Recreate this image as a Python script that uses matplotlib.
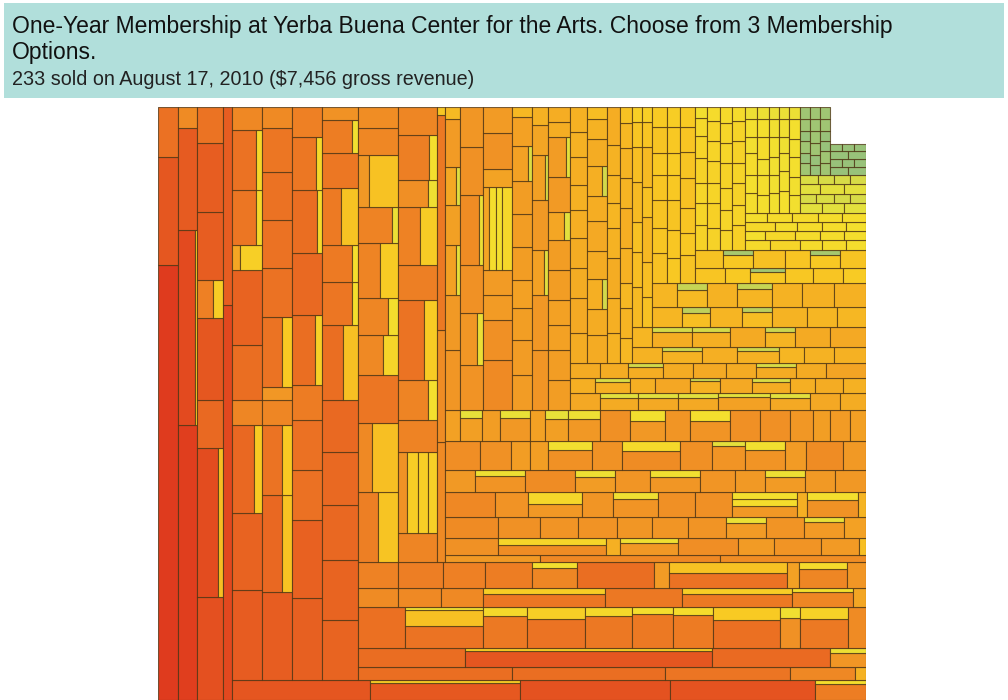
import matplotlib
matplotlib.use("Agg")
import matplotlib.pyplot as plt
from matplotlib.colors import LinearSegmentedColormap
from matplotlib.patches import Rectangle
from matplotlib.collections import PatchCollection
import numpy as np

# Header text
title_text = "One-Year Membership at Yerba Buena Center for the Arts. Choose from 3 Membership\nOptions."
subtitle_text = "233 sold on August 17, 2010 ($7,456 gross revenue)"

# Treemap values, one list per band of the spiral (lanes -> items -> parts)
band_kinds = ["col", "row"] * 10

band_01 = [
    [8700, 2160, 1000],
    [5225, (3300, 405), 1938, 400],
    [2678, (3100, 774), 1248, 2132, (600, 388), 1768, 1794, 936],
    [3555, 1782],
]
band_02 = [[2760, (2500, 500), 3000, 2900, (820, 200)]]
band_03 = [
    [2700, 2310, (1936, 704), 750, 1650, 2250, (200, 550), (1320, 330), (1440, 360), 690],
    [2640, (1940, 970), (1400, 700), 750, 390, (1400, 700), 1470, 1440, 1440, 1320, 630],
    [2460, 2340, 1500, 1500, 1050, (1600, 500), 1860, (1600, 290), (1250, 340), 900],
    [2160, 2160, 1980, 1908, 1872, (1600, 1100), (1300, 248), (1100, 232), (1100, 952), 1260, (1000, 188), 468],
]
band_04 = [
    [2002, 1989, 1625, 845, 143],
    [2033, (4000, 693), 2242, (500, 184)],
    [1927, (1700, 1300, 198), (1400, 404), (1700, 678), (1500, 427), (1400, 281), (1300, 340), (1900, 847), (600, 220), (1400, 568), 738],
    [760, 817, 798, (1600, 718), 1463, (1400, 690), (900, 259), 247],
    [1040, 1170, 1092, 1222, (900, 270), 2002, 390, (1800, 1268), 312, (900, 348), 494],
]
band_05 = [
    [(1400, 1400), (1000, 1760), 1920, (1000, 600), (1100, 380), (1200, 1000), (1240, 200), (560, 1520), 1080, 840],
    [1131, (700, 900, 800, 759), 1248, (1200, 360), (2100, 1020), 1365, (1300, 962), (800, 253), (1400, 355), 1092],
    [960, 896, 1720, 64],
]
band_06 = [
    [665, 1260, 1022],
    [901, (1100, 736), 238, (680, 306), 1020, 612, 799, 646, 119],
    [1113, 882, 798, 819, 735, 756, 798, (600, 240), 798, (640, 200), 462],
    [1250, 825, (700, 650), 775, (800, 325), 925, 925, (700, 500, 425), 250, (850, 425), 200],
    [660, (800, 300), 1100, (580, 300), 770, (750, 350), 770, 660, (600, 280), 660, 682],
    [1015, 899, 551, 522, (900, 376), 870, (1100, 582), 928, (800, 157), (800, 360), 609, 1073, 667],
    [465, (500, 182), 558, (700, 230), 465, (513, 200), (700, 292), 930, (700, 385), 775, (800, 440), 930, 930, 713, 527, 620, 496],
]
band_07 = [
    [900, 825, (550, 200), 600, (420, 150), 720, 180],
    [1035, (896, 300), 1104, (1310, 300), 1104, 920],
    [1450, 1160, 725, 725, (500, 600, 500, 807), 522, 1044, 754],
    [700, 700, 640, 560, 660, 660, 660, (560, 140), 580, 200],
    [960, 880, (560, 160), 800, (600, 120), 480, 288],
    [660, 660, 550, 550, 660, 660, (450, 166), 770, (700, 180), 330, 330],
]
band_08 = [
    [510, (446, 200), (480, 200), (480, 200), (684, 200), (480, 200), 510, 442],
    [375, (375, 150), 375, 525, (350, 100), 480, (420, 150), 375, 420, 345],
    [450, 420, (400, 125), 450, 495, 450, (450, 150), 450, 600],
]
band_09 = [
    [510, 595, 510, 510, 476, 425, 476, 425, 425],
    [560, 520, (450, 150), 560, 600, 500, (450, 150), 540, 400, 240],
    [390, 455, 520, 390, 325, 364, 390, 494],
    [300, 360, 300, 420, 480, 360, 360, 300, 192],
]
band_10 = [
    [480, (480, 160), 560, (512, 160), 400, 480, 512],
    [400, (600, 200), (560, 200), 700, (450, 150), 700, 720],
]
band_11 = [
    [400, 350, 300, 400, 350, 250, 150],
    [300, 350, 450, 300, 400, 250, 150],
]
band_12 = [
    [600, (400, 160), 640, (450, 150), 700, 600, 580],
    [600, (520, 200), 720, (640, 200), 720, 768, 768],
]
band_13 = [
    [450, 375, 420, 375, 330, 390, 300],
    [325, 364, 390, 325, 286, 338, 260],
    [420, 330, 375, 450, 390, 375, 300],
]
band_14 = [
    [450, 375, (400, 125), 420, 450, 345],
    [504, (400, 140), 576, 450, (400, 140), 468],
]
band_15 = [
    [300, 264, 240, 300, 264, 216, 132],
    [286, 325, 260, 286, 260, 260, 182],
    [240, 240, 264, 300, 240, 240, 192],
    [325, 260, 286, 260, 286, 260, 182],
]
band_16 = [
    [250, 300, 220, 240, 200],
    [180, 270, 225, 216, 198],
    [270, 198, 225, 216, 180],
    [198, 225, 234, 216, 216],
]
band_17 = [
    [240, 216, 264, 192, 216, 144],
    [216, 240, 192, 264, 216, 144],
    [200, 180, 180, 200, 180, 120],
    [220, 200, 180, 160, 180, 120],
    [198, 198, 220, 198, 220, 132],
]
band_18 = [
    [220, 220, 220],
    [144, 162, 144, 144],
    [200, 240, 220],
    [162, 144, 144, 144],
]
band_19 = [
    [120, 100, 120, 100, 120, 120],
    [100, 100, 120, 120, 120, 120],
    [120, 120, 100, 100, 120, 120],
]
band_20 = [
    [144, 144],
    [96, 96, 96],
    [144, 144],
    [84, 84, 84],
]

bands = [band_01, band_02, band_03, band_04, band_05, band_06, band_07,
         band_08, band_09, band_10, band_11, band_12, band_13, band_14,
         band_15, band_16, band_17, band_18, band_19, band_20]

TM_W, TM_H = 708.0, 593.0


def parts_of(item):
    return list(item) if isinstance(item, (tuple, list)) else [item]


def lane_total(lane):
    return sum(sum(parts_of(it)) for it in lane)


# spiral strip layout: columns at the left, rows at the bottom
rects = []
x0, y0, w, h = 0.0, 0.0, TM_W, TM_H
for bi, (kind, lanes) in enumerate(zip(band_kinds, bands)):
    total = sum(lane_total(l) for l in lanes)
    if kind == "col":
        cx = x0
        for lane in lanes:
            lw = lane_total(lane) / h
            cy = y0
            for item in lane:
                ps = parts_of(item)
                ih = sum(ps) / lw
                px = cx
                for ci, p in enumerate(ps):
                    pw = p / ih
                    rects.append((px, cy, pw, ih, p, ci, bi))
                    px += pw
                cy += ih
            cx += lw
        x0 += total / h
        w -= total / h
    else:
        cy = y0
        for lane in lanes:
            lh = lane_total(lane) / w
            cx = x0
            for item in lane:
                ps = parts_of(item)
                iw = sum(ps) / lh
                py = cy
                for ci, p in enumerate(ps):
                    ph = p / iw
                    rects.append((cx, py, iw, ph, p, ci, bi))
                    py += ph
                cx += iw
            cy += lh
        y0 += total / w
        h -= total / w

cmap = LinearSegmentedColormap.from_list("tm", [
    (0.00, "#df3b1e"), (0.10, "#e55520"), (0.20, "#ec7623"),
    (0.32, "#f19625"), (0.44, "#f5b023"), (0.56, "#f8c923"),
    (0.68, "#f4df2e"), (0.80, "#e2e03e"), (0.90, "#c2d258"),
    (1.00, "#98c27a")])

n_bands = len(bands)
patches, colors = [], []
for (x, y, rw, rh, val, ci, bi) in rects:
    pos = bi / (n_bands - 1)
    size_t = np.clip((np.log10(6000) - np.log10(val)) / (np.log10(6000) - np.log10(30)), 0, 1)
    t = 0.4 * pos + 0.55 * size_t + (0.3 if ci > 0 else 0.0)
    t += 0.3 * max(0.0, pos - 0.85) / 0.15   # greener corner
    patches.append(Rectangle((x, y), rw, rh))
    colors.append(cmap(min(t, 1.0)))

fig = plt.figure(figsize=(10.08, 7.0), dpi=100)
fig.patch.set_facecolor("white")

# header band
fig.patches.append(Rectangle((4 / 1008, 1 - 98 / 700), 1000 / 1008, 95 / 700,
                             transform=fig.transFigure, facecolor="#b1dfdb",
                             edgecolor="none", zorder=0))
fig.text(12 / 1008, 1 - 33 / 700, title_text.split("\n")[0], fontsize=16.5,
         family="Liberation Sans", color="#111111", va="baseline")
fig.text(12 / 1008, 1 - 59 / 700, title_text.split("\n")[1], fontsize=16.5,
         family="Liberation Sans", color="#111111", va="baseline")
fig.text(12 / 1008, 1 - 85 / 700, subtitle_text, fontsize=14.2,
         family="Liberation Sans", color="#222222", va="baseline")

ax = fig.add_axes([158 / 1008, 0, 708 / 1008, 593 / 700])
pc = PatchCollection(patches, facecolors=colors,
                     edgecolors=(0.30, 0.20, 0.07, 0.75), linewidths=0.8)
ax.add_collection(pc)
ax.set_xlim(0, TM_W)
ax.set_ylim(0, TM_H)
ax.axis("off")

fig.savefig("out.png", dpi=100)
